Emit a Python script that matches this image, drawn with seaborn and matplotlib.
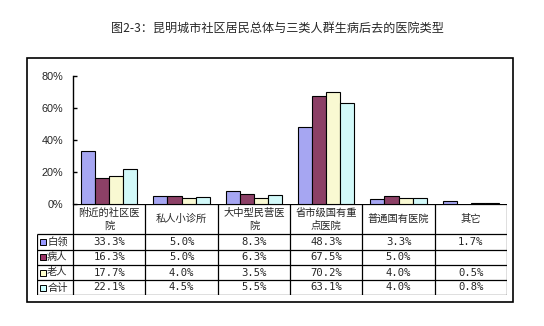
import matplotlib
matplotlib.use("Agg")
import matplotlib.pyplot as plt
from matplotlib.patches import Rectangle
from matplotlib.ticker import PercentFormatter
import numpy as np
import pandas as pd
import seaborn as sns

# Hospital types (category axis) and the population groups (series)
categories = ["附近的社区医院", "私人小诊所", "大中型民营医院", "省市级国有重点医院", "普通国有医院", "其它"]
header_labels = ["附近的社区医\n院", "私人小诊所", "大中型民营医\n院", "省市级国有重\n点医院", "普通国有医院", "其它"]
groups = ["白领", "病人", "老人", "合计"]

# Share of each group (percent) choosing each hospital type
white_collar = [33.3, 5.0, 8.3, 48.3, 3.3, 1.7]
patients = [16.3, 5.0, 6.3, 67.5, 5.0, np.nan]
elderly = [17.7, 4.0, 3.5, 70.2, 4.0, 0.5]
overall = [22.1, 4.5, 5.5, 63.1, 4.0, 0.8]

colors = ["#9999FF", "#993366", "#FFFFCC", "#CCFFFF"]
y_ticks = [0, 20, 40, 60, 80]

series = [white_collar, patients, elderly, overall]
df = pd.DataFrame({
    "类型": np.repeat([categories], len(groups), axis=0).ravel(),
    "人群": np.repeat(groups, len(categories)),
    "比例": np.concatenate(series),
})

sns.set_theme(style="white")
plt.rcParams["font.family"] = ["Noto Sans CJK SC", "DejaVu Sans"]

W, H = 544, 326
fig = plt.figure(figsize=(W / 100, H / 100), dpi=100)
fig.patch.set_facecolor("white")


def box(x0, y0, x1, y1):
    """Pixel box (top-left origin) -> figure fraction rect."""
    return [x0 / W, 1 - y1 / H, (x1 - x0) / W, (y1 - y0) / H]


# Bar area
ax = fig.add_axes(box(73, 76, 507, 204))
sns.barplot(data=df, x="类型", y="比例", hue="人群", order=categories,
            hue_order=groups, palette=dict(zip(groups, colors)),
            width=0.78, edgecolor="black", linewidth=0.8, legend=False,
            ax=ax)
ax.set_xlim(-0.5, len(categories) - 0.5)
ax.set_ylim(0, 80)
ax.set_yticks(y_ticks)
ax.yaxis.set_major_formatter(PercentFormatter(decimals=0))
ax.set_xlabel("")
ax.set_ylabel("")
ax.set_xticks([])
for s in ["top", "right", "bottom"]:
    ax.spines[s].set_visible(False)
ax.spines["left"].set_color("black")
ax.spines["left"].set_linewidth(1.0)
ax.tick_params(axis="y", direction="in", length=3, width=1.0, color="black",
               pad=7, left=True, labelsize=7.8)
for lab in ax.get_yticklabels():
    lab.set_family(["Liberation Sans", "DejaVu Sans"])
ax.patch.set_alpha(0)

# Data table under the bars
tab = fig.add_axes(box(37, 204, 507, 295))
tab.set_xlim(-1.0, len(categories) - 0.5)
tab.set_ylim(91, 0)
tab.axis("off")
row_edges = [0, 30, 45.5, 61, 76, 91]
n = len(categories)
lw = 0.9
tab.hlines(0, -0.5, n - 0.5, color="black", lw=lw)
for y in row_edges[1:]:
    tab.hlines(y, -1.0, n - 0.5, color="black", lw=lw)
for i in range(n + 1):
    tab.vlines(i - 0.5, 0, row_edges[-1], color="black", lw=lw)
tab.vlines(-1.0, row_edges[1], row_edges[-1], color="black", lw=lw)

for i, lab in enumerate(header_labels):
    tab.text(i, 15, lab, ha="center", va="center", fontsize=7.4,
             linespacing=1.35)

for r, (g, c, vals) in enumerate(zip(groups, colors, series)):
    yc = (row_edges[r + 1] + row_edges[r + 2]) / 2
    tab.add_patch(Rectangle((-0.955, yc - 3), 0.075, 6, facecolor=c,
                            edgecolor="black", lw=0.7))
    tab.text(-0.86, yc, g, ha="left", va="center", fontsize=7.4)
    for i, v in enumerate(vals):
        if not np.isnan(v):
            tab.text(i, yc, f"{v:.1f}%", ha="center", va="center",
                     fontsize=7.6, family=["DejaVu Sans Mono"])

# Chart frame and title
fig.add_artist(Rectangle((27 / W, 1 - 302 / H), (513 - 27) / W, (302 - 58) / H,
                         transform=fig.transFigure, fill=False,
                         edgecolor="black", lw=1.2))
fig.text(277 / W, 1 - 28 / H, "图2-3：昆明城市社区居民总体与三类人群生病后去的医院类型",
         ha="center", va="center", fontsize=8.7)

fig.savefig("out.png", dpi=100)
